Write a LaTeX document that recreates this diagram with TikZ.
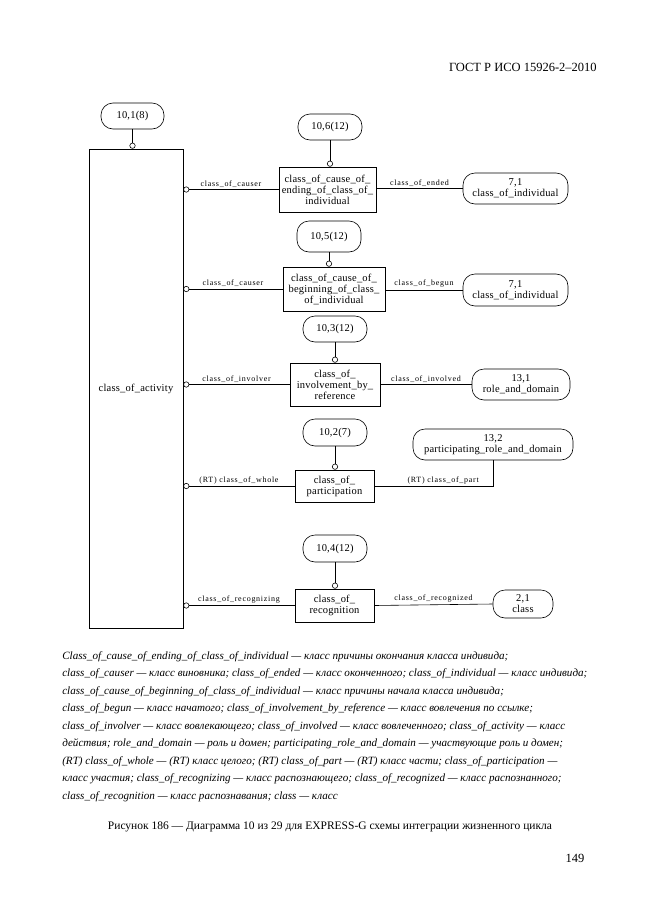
\documentclass[tikz,border=0pt]{standalone}
\usepackage{fontspec}
\setmainfont{Liberation Serif}
\newfontfamily\diafont{Liberation Serif}[LetterSpace=2]
\newfontfamily\lblfont{Liberation Serif}[LetterSpace=9]
\usetikzlibrary{arrows.meta}

\begin{document}
\begin{tikzpicture}[x=1pt, y=-1pt, line width=0.6pt]

      \tikzstyle{Ent}=[rectangle, draw, align=center, inner sep=1pt,
        font=\diafont\fontsize{10.5}{11}\selectfont];
      \tikzstyle{Ref}=[rectangle, draw, rounded corners=12pt, align=center, inner sep=1pt,
        font=\diafont\fontsize{10.5}{11}\selectfont];
      \tikzstyle{Rel}=[-{Circle[open, length=6pt, width=6pt]}];
      \tikzstyle{Lbl}=[above, inner sep=2pt, font=\lblfont\fontsize{8}{9}\selectfont];
      \tikzstyle{Leg}=[anchor=base west, inner sep=0pt, font=\itshape\fontsize{11.1}{12}\selectfont];

      \useasboundingbox (0,0) rectangle (661,913);

      \node[anchor=base east, inner sep=0pt, font=\fontsize{12.5}{14}\selectfont] (Gost) at (597,71)
        {ГОСТ Р ИСО 15926-2--2010};

        % main entity
        \node[Ent, minimum width=94, minimum height=479] (Activity) at (136,388.5) {class\_of\_activity};
        \node[Ref, minimum width=63, minimum height=26] (R101) at (132.5,116) {10,1(8)};
        \draw[Rel] (R101.south) -- (R101.south |- Activity.north);

        % ending
        \node[Ref, minimum width=64, minimum height=26] (R106) at (330,127) {10,6(12)};
        \node[Ent, minimum width=97, minimum height=45] (CauseEnd) at (327.5,189.5)
          {class\_of\_cause\_of\_\\ending\_of\_class\_of\_\\individual};
        \node[Ref, minimum width=105, minimum height=31] (IndA) at (515.5,188.5) {7,1\\class\_of\_individual};
        \draw[Rel] (R106.south) -- (R106.south |- CauseEnd.north);
        \draw[Rel] (CauseEnd.west) -- (CauseEnd.west -| Activity.east)
        node[Lbl, midway] {class\_of\_causer};
        \draw (CauseEnd.east |- IndA.west) -- (IndA.west)
        node[Lbl, midway] {class\_of\_ended};

        % beginning
        \node[Ref, minimum width=64, minimum height=31] (R105) at (329,236.5) {10,5(12)};
        \node[Ent, minimum width=102, minimum height=44] (CauseBeg) at (334,289)
          {class\_of\_cause\_of\_\\beginning\_of\_class\_\\of\_individual};
        \node[Ref, minimum width=105, minimum height=32] (IndB) at (515.5,290) {7,1\\class\_of\_individual};
        \draw[Rel] (R105.south) -- (R105.south |- CauseBeg.north);
        \draw[Rel] (CauseBeg.west) -- (CauseBeg.west -| Activity.east)
        node[Lbl, midway] {class\_of\_causer};
        \draw (CauseBeg.east |- IndB.west) -- (IndB.west)
        node[Lbl, midway] {class\_of\_begun};

        % involvement
        \node[Ref, minimum width=64, minimum height=26] (R103) at (335,329) {10,3(12)};
        \node[Ent, minimum width=90, minimum height=43] (Involve) at (335,384.5)
          {class\_of\_\\involvement\_by\_\\reference};
        \node[Ref, minimum width=98, minimum height=31] (RoleDom) at (521,384.5) {13,1\\role\_and\_domain};
        \draw[Rel] (R103.south) -- (R103.south |- Involve.north);
        \draw[Rel] (Involve.west) -- (Involve.west -| Activity.east)
        node[Lbl, midway] {class\_of\_involver};
        \draw (Involve.east) -- (RoleDom.west)
        node[Lbl, midway] {class\_of\_involved};

        % participation
        \node[Ref, minimum width=64, minimum height=27] (R102) at (335,432.5) {10,2(7)};
        \node[Ent, minimum width=79, minimum height=32] (Partic) at (334.5,486) {class\_of\_\\participation};
        \node[Ref, minimum width=160, minimum height=31] (PartRole) at (493,444.5)
          {13,2\\participating\_role\_and\_domain};
        \draw[Rel] (R102.south) -- (R102.south |- Partic.north);
        \draw[Rel] (Partic.west) -- (Partic.west -| Activity.east)
        node[Lbl, midway] {(RT) class\_of\_whole};
        \draw (Partic.east) -| (PartRole.south)
        node[Lbl, pos=0.29] {(RT) class\_of\_part};

        % recognition
        \node[Ref, minimum width=64, minimum height=27] (R104) at (335,548.5) {10,4(12)};
        \node[Ent, minimum width=79, minimum height=33] (Recog) at (334.5,605.5) {class\_of\_\\recognition};
        \node[Ref, minimum width=60, minimum height=28] (Cls) at (523,604) {2,1\\class};
        \draw[Rel] (R104.south) -- (R104.south |- Recog.north);
        \draw[Rel] (Recog.west) -- (Recog.west -| Activity.east)
        node[Lbl, midway] {class\_of\_recognizing};
        \draw (Recog.east) -- (Cls.west)
        node[Lbl, midway] {class\_of\_recognized};

        % legend
        \node[Leg] (Leg1) at (62,659) {Class\_of\_cause\_of\_ending\_of\_class\_of\_individual --- класс причины окончания класса индивида;};
        \node[Leg] (Leg2) at (62,676.5) {class\_of\_causer --- класс виновника; class\_of\_ended --- класс оконченного; class\_of\_individual --- класс индивида;};
        \node[Leg] (Leg3) at (62,694) {class\_of\_cause\_of\_beginning\_of\_class\_of\_individual --- класс причины начала класса индивида;};
        \node[Leg] (Leg4) at (62,711.5) {class\_of\_begun --- класс начатого; class\_of\_involvement\_by\_reference --- класс вовлечения по ссылке;};
        \node[Leg] (Leg5) at (62,729) {class\_of\_involver --- класс вовлекающего; class\_of\_involved --- класс вовлеченного; class\_of\_activity --- класс};
        \node[Leg] (Leg6) at (62,746.5) {действия; role\_and\_domain --- роль и домен; participating\_role\_and\_domain --- участвующие роль и домен;};
        \node[Leg] (Leg7) at (62,764) {(RT) class\_of\_whole --- (RT) класс целого; (RT) class\_of\_part --- (RT) класс части; class\_of\_participation ---};
        \node[Leg] (Leg8) at (62,781.5) {класс участия; class\_of\_recognizing --- класс распознающего; class\_of\_recognized --- класс распознанного;};
        \node[Leg] (Leg9) at (62,799) {class\_of\_recognition --- класс распознавания; class --- класс};

        \node[anchor=base, inner sep=0pt, font=\fontsize{11.5}{13}\selectfont] (Caption) at (330,829)
          {Рисунок 186 --- Диаграмма 10 из 29 для EXPRESS-G схемы интеграции жизненного цикла};
        \node[anchor=base, inner sep=0pt, font=\fontsize{12.5}{14}\selectfont] (PageNo) at (575,862) {149};

    \end{tikzpicture}
\end{document}
